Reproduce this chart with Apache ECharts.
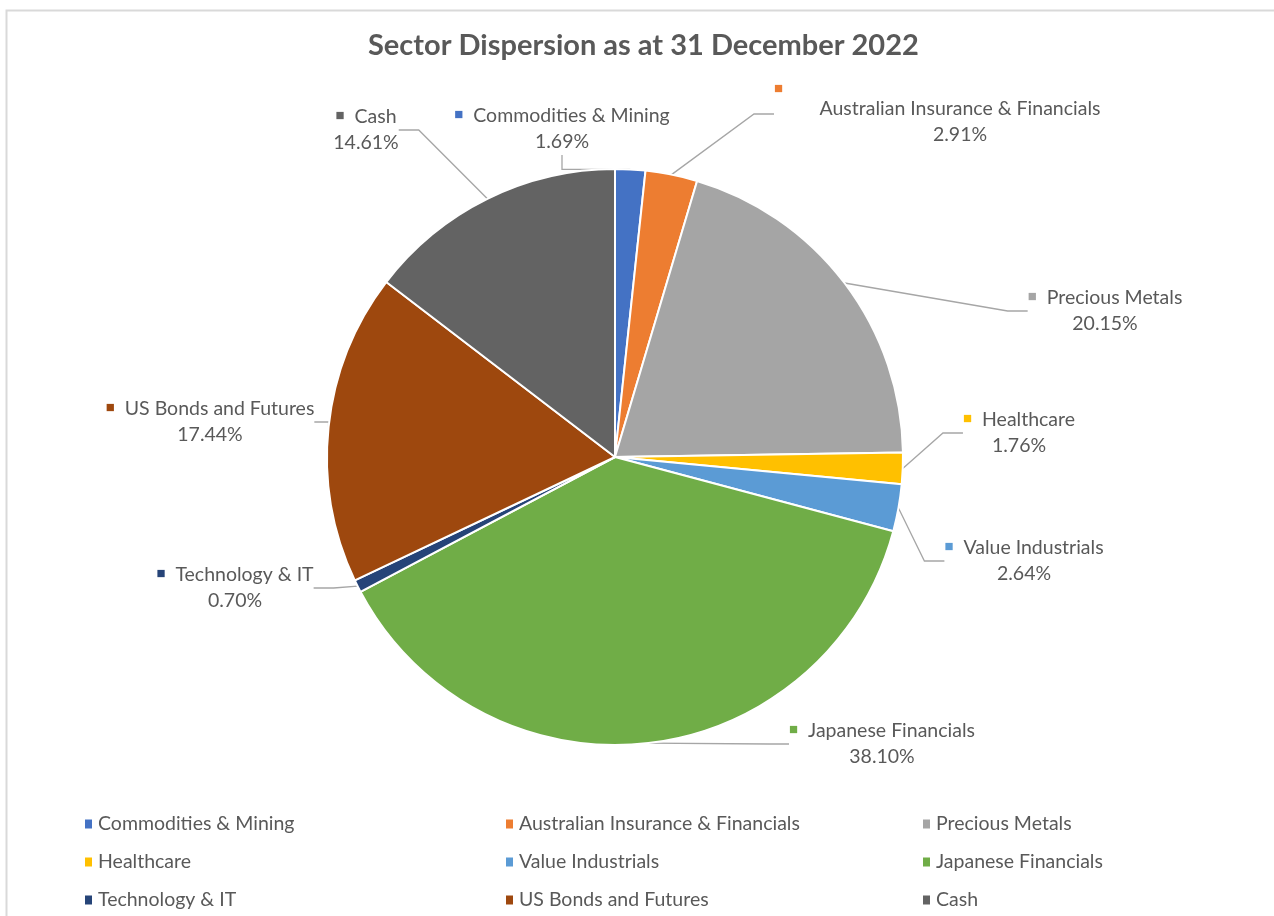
<!DOCTYPE html>
<html>
<head>
<meta charset="utf-8">
<script src="https://cdn.jsdelivr.net/npm/echarts@6/dist/echarts.min.js"></script>
<style>html,body{margin:0;padding:0;background:#fff;}#c{width:1274px;height:916px;}</style>
</head>
<body>
<div id="c"></div>
<script>
const categories = ['Commodities & Mining','Australian Insurance & Financials','Precious Metals','Healthcare','Value Industrials','Japanese Financials','Technology & IT','US Bonds and Futures','Cash'];
const values = [1.69, 2.91, 20.15, 1.76, 2.64, 38.10, 0.70, 17.44, 14.61];
const colors = ['#4472C4','#ED7D31','#A5A5A5','#FFC000','#5B9BD5','#70AD47','#264478','#9E480E','#636363'];
const titleText = 'Sector Dispersion as at 31 December 2022';
// label block centres (layout only)
const labelCentres = [[562,129],[960,114],[1105,311],[1019,433],[1024,561],[882,744],[235,588],[210,422],[366,130]];

const FONT = 'Lato';
const chart = echarts.init(document.getElementById('c'));
const data = categories.map((n,i)=>({name:n, value:values[i], itemStyle:{color:colors[i]}}));

function fmt(p){
  const pct = values[p.dataIndex].toFixed(2) + '%';
  const sq = '{s' + p.dataIndex + '|■}';
  if (p.dataIndex === 1) return '{w1|■}\n' + p.name + '\n' + pct;
  return sq + '  ' + p.name + '\n' + pct;
}
const rich = {};
colors.forEach((c,i)=>{ rich['s'+i] = {color:c, fontSize:15, fontFamily:FONT, padding:[0,0,4,0]}; });
rich.w1 = {color:colors[1], fontSize:15, lineHeight:16, width:372, align:'left', fontFamily:FONT};

function legendCol(items, left){
  return {
    orient:'vertical', left:left, top:809, itemGap:18, icon:'rect', itemWidth:9, itemHeight:11,
    data: items, selectedMode:false,
    textStyle:{color:'#595959', fontSize:19.5, fontFamily:FONT}
  };
}

chart.setOption({
  backgroundColor:'#ffffff',
  animation:false,
  title:{text:titleText, left:368, top:31, padding:0, textStyle:{color:'#595959', fontSize:29, fontWeight:'bold', fontFamily:FONT}},
  legend:[
    legendCol([categories[0],categories[3],categories[6]], 78),
    legendCol([categories[1],categories[4],categories[7]], 499),
    legendCol([categories[2],categories[5],categories[8]], 916)
  ],
  graphic:[{type:'rect', shape:{x:6.5,y:10.5,width:1300,height:1000}, style:{fill:'none', stroke:'#D9D9D9', lineWidth:2}, silent:true, z:-1}],
  series:[{
    type:'pie', center:[615,457], radius:[0,288], startAngle:90, clockwise:true,
    data:data,
    itemStyle:{borderColor:'#ffffff', borderWidth:2},
    label:{show:true, formatter:fmt, color:'#595959', fontSize:19.5, fontFamily:FONT, lineHeight:26, align:'center', rich:rich},
    labelLine:{show:true, length:20, length2:20, lineStyle:{color:'#A6A6A6', width:1.3}},
    labelLayout:function(p){
      const c = labelCentres[p.dataIndex];
      return {x:c[0], y:c[1], align:'center', verticalAlign:'middle'};
    },
    emphasis:{disabled:true}
  }]
});
</script>
</body>
</html>
